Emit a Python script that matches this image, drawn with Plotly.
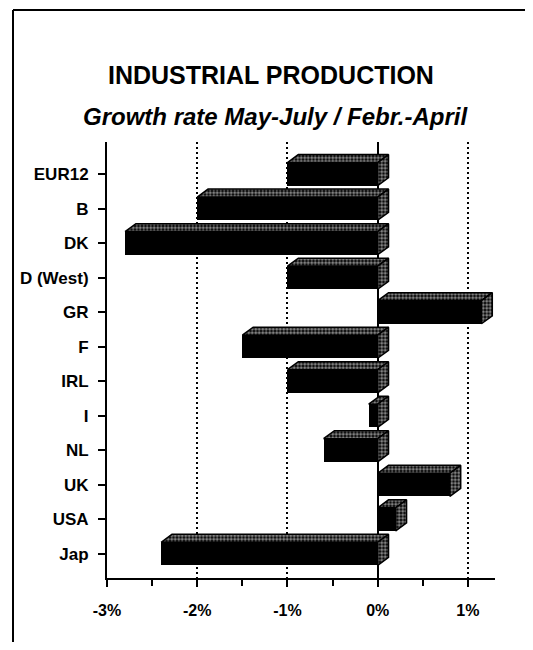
import plotly.graph_objects as go

# ---- data ----
categories = ["EUR12", "B", "DK", "D (West)", "GR", "F", "IRL", "I", "NL", "UK", "USA", "Jap"]
values = [-1.0, -2.0, -2.8, -1.0, 1.15, -1.5, -1.0, -0.1, -0.6, 0.8, 0.2, -2.4]
x_tickvals = [-3, -2, -1, 0, 1]
x_ticktext = ["-3%", "-2%", "-1%", "0%", "1%"]
x_minor_tickvals = [-2.5, -1.5, -0.5, 0.5]
title_text = "INDUSTRIAL PRODUCTION"
subtitle_text = "Growth rate May-July / Febr.-April"

# ---- layout constants (page has an 8px body margin) ----
OFF = 8
W, H = 517, 634
L, R, T, B = 99, 30, 134, 64
PW, PH = W - L - R, H - T - B
BAR_W = 0.67      # front-face thickness (category units)
DX = 0.12         # 3D depth, x (data units)
DY = 0.23         # 3D depth, y (category units)
FONT = "Liberation Sans"

pos = list(range(len(categories)))

def px_to_paper_x(px):
    return (px - OFF - L) / PW

def px_to_paper_y(py):
    return (H - B - (py - OFF)) / PH

fig = go.Figure()

# front faces
fig.add_trace(go.Bar(
    x=values, y=pos, orientation="h", width=BAR_W,
    marker=dict(color="black", line=dict(width=0)),
    showlegend=False, hoverinfo="skip",
))

# top and side faces of the 3D bars
top_x, top_y, side_x, side_y = [], [], [], []
for p, v in zip(pos, values):
    x0, x1 = min(0, v), max(0, v)
    yt = p - BAR_W / 2
    yb = p + BAR_W / 2
    top_x += [x0, x1, x1 + DX, x0 + DX, x0, None]
    top_y += [yt, yt, yt - DY, yt - DY, yt, None]
    side_x += [x1, x1 + DX, x1 + DX, x1, x1, None]
    side_y += [yt, yt - DY, yb - DY, yb, yt, None]

pattern = dict(shape=".", fgcolor="white", bgcolor="black", size=3.5, solidity=0.6)
for xs, ys in ((top_x, top_y), (side_x, side_y)):
    fig.add_trace(go.Scatter(
        x=xs, y=ys, mode="lines", fill="toself",
        fillcolor="black", fillpattern=pattern,
        line=dict(color="black", width=1.5),
        showlegend=False, hoverinfo="skip",
    ))

fig.update_xaxes(
    range=[-3, 1.3], tickvals=x_tickvals, ticktext=x_ticktext,
    ticks="outside", ticklen=7, tickwidth=1.5, tickcolor="black",
    showline=True, linewidth=2, linecolor="black",
    showgrid=True, gridcolor="black", griddash="1.5px,3.5px", gridwidth=1.5,
    zeroline=True, zerolinecolor="black", zerolinewidth=1.5,
    minor=dict(tickvals=x_minor_tickvals, ticks="outside", ticklen=6,
               tickwidth=1.5, tickcolor="black", showgrid=False),
    tickfont=dict(family=FONT, size=16, color="black", weight="bold"),
    ticklabelstandoff=10,
)
fig.update_yaxes(
    range=[11.7, -0.93], tickvals=pos, ticktext=categories,
    ticks="outside", ticklen=7, tickwidth=1.5, tickcolor="black",
    showline=True, linewidth=2, linecolor="black",
    showgrid=False, zeroline=False,
    tickfont=dict(family=FONT, size=17, color="black", weight="bold"),
    ticklabelstandoff=6,
)

fig.add_annotation(
    text=title_text, xref="paper", yref="paper",
    x=px_to_paper_x(271), y=px_to_paper_y(75), xanchor="center", yanchor="middle",
    showarrow=False, font=dict(family=FONT, size=25, color="black", weight="bold"),
)
fig.add_annotation(
    text="<i>" + subtitle_text + "</i>", xref="paper", yref="paper",
    x=px_to_paper_x(275), y=px_to_paper_y(117), xanchor="center", yanchor="middle",
    showarrow=False, font=dict(family=FONT, size=24, color="black", weight="bold"),
)

# page frame (top and left edges visible)
fig.add_shape(type="line", xref="paper", yref="paper",
              x0=px_to_paper_x(13), x1=px_to_paper_x(W + OFF + 10),
              y0=px_to_paper_y(10), y1=px_to_paper_y(10),
              line=dict(color="black", width=2))
fig.add_shape(type="line", xref="paper", yref="paper",
              x0=px_to_paper_x(13), x1=px_to_paper_x(13),
              y0=px_to_paper_y(10), y1=px_to_paper_y(H + OFF + 10),
              line=dict(color="black", width=2))

fig.update_layout(
    width=W, height=H, margin=dict(l=L, r=R, t=T, b=B, autoexpand=False),
    paper_bgcolor="white", plot_bgcolor="white",
    showlegend=False, bargap=0,
)

fig.write_html("out.html")
